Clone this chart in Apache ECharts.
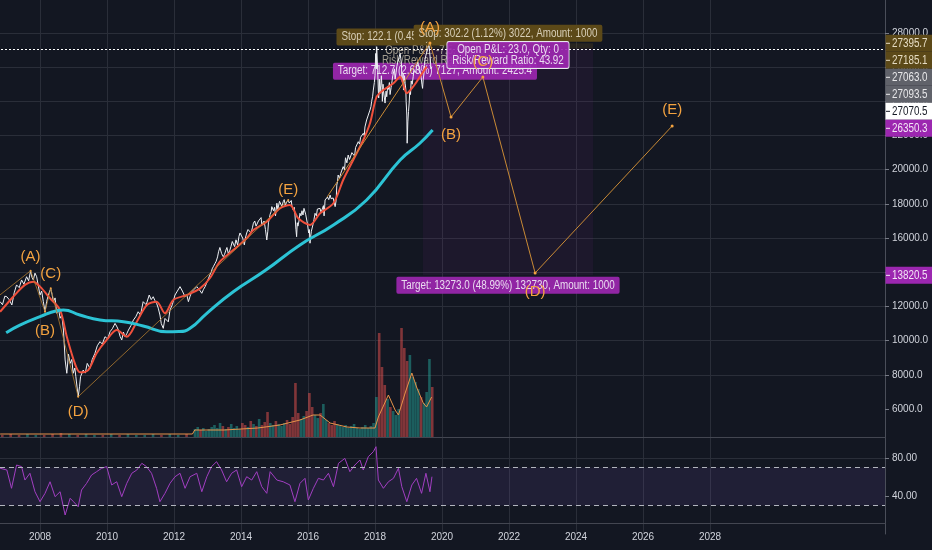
<!DOCTYPE html>
<html><head><meta charset="utf-8">
<script src="https://cdn.jsdelivr.net/npm/echarts@6.0.0/dist/echarts.min.js"></script>
<style>html,body{margin:0;padding:0;background:#131722;}#c{width:932px;height:550px;}</style>
</head><body><div id="c"></div>
<script>
// ---------------- DATA ----------------
// price (decimal year, close)
const price = [[2006.81,12280],[2006.88,12100],[2006.95,12600],[2007.01,12570],[2007.08,12400],[2007.16,12085],[2007.23,12800],[2007.30,13260],[2007.38,13100],[2007.45,13550],[2007.52,13300],[2007.60,13740],[2007.66,13500],[2007.72,14090],[2007.76,13700],[2007.80,13550],[2007.85,13950],[2007.90,13740],[2007.95,13200],[2008.00,12670],[2008.05,12900],[2008.10,12280],[2008.15,11690],[2008.20,12300],[2008.25,12670],[2008.32,13060],[2008.36,12700],[2008.40,12280],[2008.45,12500],[2008.50,11600],[2008.55,11900],[2008.60,11310],[2008.65,11500],[2008.70,10620],[2008.75,8870],[2008.80,8090],[2008.85,9200],[2008.90,8670],[2008.95,8900],[2008.99,8090],[2009.04,8400],[2009.07,7890],[2009.14,6720],[2009.18,7300],[2009.21,7890],[2009.29,8280],[2009.35,8100],[2009.41,8670],[2009.49,8380],[2009.56,8900],[2009.64,9260],[2009.71,9700],[2009.79,9940],[2009.86,9800],[2009.94,10230],[2010.02,10100],[2010.09,10520],[2010.16,10700],[2010.24,11010],[2010.30,10800],[2010.34,10620],[2010.39,10250],[2010.44,10040],[2010.49,10500],[2010.54,10230],[2010.59,10400],[2010.64,10620],[2010.72,10900],[2010.79,11210],[2010.86,11400],[2010.93,11690],[2011.00,11500],[2011.08,12280],[2011.17,12100],[2011.26,12670],[2011.32,12400],[2011.38,12570],[2011.43,12350],[2011.48,12190],[2011.53,11900],[2011.58,11500],[2011.62,11000],[2011.68,10720],[2011.73,11300],[2011.78,11400],[2011.83,11100],[2011.88,11790],[2011.95,12100],[2012.03,12670],[2012.10,12900],[2012.18,13160],[2012.25,12900],[2012.33,12570],[2012.38,12700],[2012.43,12280],[2012.48,12600],[2012.53,12860],[2012.60,13000],[2012.68,13160],[2012.75,13000],[2012.83,12770],[2012.88,13000],[2012.93,13160],
[2013.00,13500],[2013.07,13840],[2013.11,14000],[2013.14,14200],[2013.18,14350],[2013.22,14500],[2013.26,14650],[2013.30,14900],[2013.33,15200],[2013.37,15450],[2013.42,15100],[2013.47,14910],[2013.51,15050],[2013.55,15300],[2013.58,15450],[2013.62,15100],[2013.66,15250],[2013.70,15500],[2013.74,15800],[2013.77,15700],[2013.81,15500],[2013.85,15900],[2013.90,15600],[2013.94,16100],[2013.97,16300],[2014.02,16350],[2014.05,16000],[2014.10,15600],[2014.13,16000],[2014.17,16300],[2014.21,16500],[2014.25,16450],[2014.30,16300],[2014.34,16600],[2014.37,16870],[2014.41,17000],[2014.45,16700],[2014.49,16650],[2014.52,17000],[2014.57,17060],[2014.60,17200],[2014.62,16800],[2014.66,16750],[2014.69,17000],[2014.73,16500],[2014.77,15890],[2014.80,16400],[2014.82,16900],[2014.85,17200],[2014.87,17400],[2014.90,17550],[2014.92,17840],[2014.95,17950],[2014.97,17600],[2015.00,17800],[2015.03,17300],[2015.07,18040],[2015.10,17700],[2015.12,17800],[2015.15,18150],[2015.18,18100],[2015.22,17850],[2015.26,18130],[2015.29,18250],[2015.32,17900],[2015.36,18100],[2015.41,18230],[2015.44,18050],[2015.47,18000],[2015.50,18200],[2015.52,17900],[2015.56,17640],[2015.59,17800],[2015.61,17400],[2015.64,16500],[2015.66,16080],[2015.68,16900],[2015.70,16700],[2015.73,17000],[2015.76,17450],[2015.79,17300],[2015.82,17600],[2015.85,17350],[2015.88,17740],[2015.90,17800],[2015.93,17400],[2015.96,17500],[2015.98,16870],[2016.02,16300],[2016.04,16500],[2016.06,15700],[2016.08,16100],[2016.10,16400],[2016.13,16300],[2016.15,16800],[2016.18,17100],[2016.21,17450],[2016.25,17300],[2016.28,17700],[2016.32,17600],[2016.36,17740],[2016.39,17500],[2016.42,17400],[2016.46,17900],[2016.48,17300],[2016.51,18230],[2016.55,18300],[2016.58,18400],[2016.62,18250],[2016.66,18520],[2016.69,18300],[2016.72,18200],[2016.75,18350],[2016.78,18300],[2016.81,17840],[2016.84,18200],[2016.86,19100],[2016.88,19300],[2016.90,19690],[2016.94,19500],[2016.98,19800],[2017.02,19700],[2017.05,20180],[2017.09,20000],[2017.12,20700],[2017.16,20400],[2017.20,20860],[2017.24,20600],[2017.28,20700],[2017.31,21000],[2017.35,21050],[2017.39,20800],[2017.42,21300],[2017.46,21200],[2017.50,21640],[2017.54,21500],[2017.57,21900],[2017.61,21800],[2017.65,22130],[2017.68,22000],[2017.70,22500],[2017.73,22400],[2017.75,22910],[2017.78,22800],[2017.80,23200],[2017.83,23100],[2017.85,23490],[2017.88,23700],[2017.90,24000],[2017.93,24300],[2017.95,24660],
[2017.98,25100],[2018.00,25500],[2018.02,26800],[2018.04,25900],[2018.05,27200],[2018.07,26300],[2018.08,25800],[2018.10,24600],[2018.11,24200],[2018.13,25300],[2018.15,24470],[2018.17,24900],[2018.19,25500],[2018.21,24800],[2018.22,24000],[2018.24,25000],[2018.25,24660],[2018.28,24200],[2018.30,23900],[2018.33,24600],[2018.35,24270],[2018.38,24900],[2018.40,24700],[2018.43,25100],[2018.45,24400],[2018.48,24800],[2018.50,25060],[2018.53,25500],[2018.55,25400],[2018.58,25900],[2018.60,25300],[2018.63,25700],[2018.65,26030],[2018.68,26300],[2018.70,26400],[2018.73,26200],[2018.75,26810],[2018.77,26500],[2018.79,26200],[2018.80,25300],[2018.82,25100],[2018.84,25600],[2018.85,24660],[2018.87,25200],[2018.88,25500],[2018.90,25060],[2018.92,24700],[2018.93,24000],[2018.95,23200],[2018.96,21550],[2018.98,22800],[2019.00,23400],[2019.02,23900],[2019.04,24660],[2019.06,24400],[2019.08,25200],[2019.11,25000],[2019.14,25440],[2019.16,25800],[2019.19,25900],[2019.22,25700],[2019.24,26030],[2019.27,26300],[2019.30,26400],[2019.32,26200],[2019.34,25840],[2019.36,25900],[2019.38,25400],[2019.40,25000],[2019.42,24760],[2019.44,25300],[2019.46,25600],[2019.48,26100],[2019.49,26420],[2019.52,26700],[2019.54,26800],[2019.56,26600],[2019.58,27100],[2019.60,27000],[2019.61,27400],[2019.63,26900],[2019.65,26500],[2019.67,25900],[2019.70,26030]];
// short moving average (red)
const maShort = [[2006.81,11690],[2007.20,12570],[2007.55,13260],[2007.80,13450],[2008.00,13160],[2008.30,12480],[2008.60,11790],[2008.80,10230],[2009.04,8670],[2009.19,8150],[2009.44,8280],[2009.69,9260],[2009.99,10040],[2010.29,10620],[2010.59,10230],[2010.89,11110],[2011.19,12090],[2011.48,12280],[2011.73,11600],[2011.98,12380],[2012.38,12670],[2012.78,13060],[2013.07,13650],[2013.37,14620],[2013.77,15300],[2014.17,15990],[2014.37,16470],[2014.77,16960],[2015.16,17740],[2015.46,17940],[2015.71,17160],[2016.06,16770],[2016.36,17450],[2016.76,18040],[2017.05,19400],[2017.35,20570],[2017.65,21740],[2017.85,22720],[2018.05,24270],[2018.25,24660],[2018.55,25060],[2018.75,25440],[2018.95,24470],[2019.14,24860],[2019.34,25440],[2019.54,26030]];
// long moving average (cyan)
const maLong = [[2006.99,10465],[2007.40,10910],[2008.00,11400],[2008.50,11750],[2008.70,11790],[2009.19,11500],[2009.79,11210],[2010.49,11110],[2011.08,10860],[2011.78,10520],[2012.15,10530],[2012.48,10720],[2012.98,11600],[2013.77,12860],[2014.72,14100],[2015.76,15600],[2016.76,16770],[2017.75,18230],[2018.75,20570],[2019.34,21550],[2019.72,22320]];
// volume: quarterly before 2012.5, monthly after
const volPreStart = 2006.875;
const volPre = [2,3,2,3,2,2,3,4,3,2,3,2,2,3,2,3,2,2,3,2,3,2,3];
const volStart = 2012.625;
const volMonthly = [8,10,7,9,6, 8,10,12,9,14,11,8,10,13,9,11,8, 14,12,10,16,13,11,18,12,15,25,14,12, 16,13,11,14,17,13,20,54,24,18,21,26, 44,30,22,19,24,33,17,14,12,16,13,11, 10,12,9,11,13,9,8,10,12,9,11,14, 40,104,70,52,38,30,26,22,28,109,89,76, 82,60,55,48,40,34,45,78,50];
const volMA = [[2006.81,3],[2012.55,3],[2012.62,7],[2013.5,7],[2014.5,9],[2015.16,12],[2015.76,17],[2016.15,22],[2016.36,22],[2016.66,14],[2017.16,10],[2017.55,9],[2018.0,9],[2018.1,20],[2018.4,42],[2018.6,27],[2018.7,22],[2018.9,44],[2019.1,64],[2019.24,50],[2019.44,34],[2019.54,30],[2019.69,40]];
// RSI
const rsiT = [2006.81,2007.01,2007.15,2007.30,2007.45,2007.55,2007.70,2007.85,2008.00,2008.15,2008.30,2008.45,2008.60,2008.75,2008.90,2009.00,2009.14,2009.24,2009.39,2009.54,2009.69,2009.84,2009.99,2010.14,2010.29,2010.44,2010.59,2010.74,2010.89,2011.04,2011.18,2011.33,2011.48,2011.58,2011.73,2011.88,2012.03,2012.18,2012.33,2012.48,2012.68,2012.83,2012.98,2013.12,2013.27,2013.42,2013.57,2013.72,2013.87,2014.02,2014.17,2014.32,2014.47,2014.62,2014.77,2014.87,2015.07,2015.26,2015.46,2015.61,2015.76,2015.91,2016.01,2016.16,2016.31,2016.46,2016.61,2016.76,2016.91,2017.10,2017.25,2017.40,2017.55,2017.65,2017.80,2017.95,2018.03,2018.10,2018.25,2018.40,2018.55,2018.70,2018.80,2018.95,2019.10,2019.24,2019.39,2019.52,2019.64,2019.70];
const rsiV = [69.2,67.4,48.1,72.6,70.9,56.8,63.9,44.5,34,42.8,55,39.3,44.5,20,37.6,34,28.7,46.3,53.3,62.1,65.6,69.2,70.9,51.6,55,39.3,53.3,63.9,67.4,74.4,70.9,63.9,48.1,34,42.8,53.3,60.3,63.9,48.1,60.3,63.9,44.5,60.3,70.9,76.1,67.4,55,63.9,67.4,49.8,60.3,56.8,65.6,49.8,42.8,65.6,56.8,55,51.6,34,53.3,58.6,35.8,48.1,58.6,56.8,63.9,49.8,74.4,79.6,65.6,72.6,77.9,67.4,81.4,86.6,91.9,56.8,48.1,55,58.6,69.2,49.8,34,51.6,58.6,42.8,63.9,44.5,60.3];
const rsiLevels = [70, 30];
// Elliott waves
const waveHistPts = [[2006.5,12200],[2007.72,14090],[2008.15,11690],[2008.32,13060],[2009.14,6720],[2015.41,18230]];
const waveHistNames = ['','(A)','(B)','(C)','(D)','(E)'];
const waveProjPts = [[2016.57,18405],[2019.64,27415],[2020.27,23085],[2021.22,25426],[2022.78,13960],[2026.87,22559]];
const waveProjNames = ['','(A)','(B)','(C)','(D)','(E)'];
// positions (0 = small short, 1 = big short)
const posEntry = [27063.0, 27093.5];
const posStop = [27185.1, 27395.7];
const posTarget = [26350.3, 13820.5];
const posAmount = ['2425.4', '1000'];
const posStart = [2019.43, 2019.43];
const posEnd = [2020.15, 2024.51];
const lastPrice = 27070.5;
// axis ticks
const xTickMin = 2006, xTickStep = 2, xLabelFirst = 2008, xLabelLast = 2028;
const yTickMin = 4000, yTickMax = 30000, yTickStep = 2000, yLabelFirst = 6000, yLabelLast = 28000;
const rsiTickStep = 40, rsiLabels = [40, 80];

// ---------------- STYLE ----------------
const FONT = "'Liberation Sans',Arial,sans-serif";
const BG = '#131722', GRIDC = '#2a2e39', TXT = '#d1d4dc', PANE = '#434651';
const ORANGE = '#f4a340', BROWN = 'rgb(92,73,24)', GRAY = 'rgb(96,98,106)', PURPLE = 'rgb(156,39,176)';
const T = 'rgba(0,0,0,0)';
const NARROW = 0.82;                      // horizontal squeeze for overlay labels
const PXPY = 33.5;                        // px per year
const X_MAX = xTickMin + 912 / PXPY;

const xSplit = [];
for (let v = xTickMin, i = 0; i < 16; i++, v += xTickStep) xSplit.push(v >= xLabelFirst && v <= xLabelLast ? GRIDC : T);
const ySplit = [], yTicks = [];
for (let v = yTickMin; v <= yTickMax; v += yTickStep) {
  const on = v >= yLabelFirst && v <= yLabelLast;
  ySplit.push(on ? GRIDC : T);
  if (on) yTicks.push(v);
}

function priceAt(t) {
  for (let i = 1; i < price.length; i++) {
    if (price[i][0] >= t) { const a = price[i-1], b = price[i]; return a[1] + (b[1]-a[1])*(t-a[0])/(b[0]-a[0]); }
  }
  return price[price.length-1][1];
}
const volData = [];
volPre.forEach((v, i) => volData.push([volPreStart + i*0.25, v]));
volMonthly.forEach((v, i) => volData.push([volStart + i/12, v]));
const volItems = volData.map(d => {
  const up = priceAt(d[0]) >= priceAt(d[0] - 1/12);
  return {value: d, itemStyle: {color: up ? 'rgba(38,166,154,0.5)' : 'rgba(239,83,80,0.5)'}};
});

function waveData(pts, names, place) {
  return pts.map((p, i) => names[i] ? {value: p, name: names[i], label: {show: true, position: place[i][0], distance: place[i][1]}}
                                    : {value: p, name: '', symbol: 'none', label: {show: false}});
}
const histPlace = [null, ['top',5], ['bottom',11], ['top',6], ['bottom',7], ['top',2]];
const projPlace = [null, ['top',6], ['bottom',9], ['top',6], ['bottom',10], ['top',7]];

function xAx(gi, extra) {
  return Object.assign({type:'value', gridIndex: gi, min: xTickMin, max: X_MAX, interval: xTickStep,
    axisLine:{show:false}, axisTick:{show:false}, axisLabel:{show:false},
    splitLine:{show:true, lineStyle:{color: xSplit, width:1}}}, extra || {});
}

const option = {
  backgroundColor: BG,
  animation: false,
  textStyle: {fontFamily: FONT},
  grid: [
    {left:-27, width:912, top:-1.2, height:444.4, outerBoundsMode:'none', containLabel:false},
    {left:-27, width:912, top:327, height:110, outerBoundsMode:'none', containLabel:false},
    {left:-27, width:912, top:439, height:95, outerBoundsMode:'none', containLabel:false}
  ],
  xAxis: [
    xAx(0, {axisLine:{show:true, lineStyle:{color:PANE}}, offset:-6.2}),
    xAx(1, {splitLine:{show:false}}),
    xAx(2, {axisLine:{show:true, lineStyle:{color:PANE}}, offset:-11,
      axisLabel:{show:true, color:TXT, fontSize:10, fontFamily:FONT, margin:9,
        formatter: v => (Math.abs(v - Math.round(v)) < 1e-6 && v >= xLabelFirst && v <= xLabelLast) ? String(Math.round(v)) : ''}})
  ],
  yAxis: [
    {type:'value', gridIndex:0, position:'right', min:yTickMin, max:yTickMax, interval:yTickStep,
      axisLine:{show:true, lineStyle:{color:'#4a4e59'}},
      axisTick:{show:true, length:4, customValues:yTicks, lineStyle:{color:'#787b86'}},
      axisLabel:{color:TXT, fontSize:10, fontFamily:FONT, margin:7,
        formatter: v => (v >= yLabelFirst && v <= yLabelLast) ? v.toFixed(1) : ''},
      splitLine:{show:true, lineStyle:{color:ySplit}}},
    {type:'value', gridIndex:1, min:0, max:110, show:false},
    {type:'value', gridIndex:2, position:'right', min:0, max:100, interval:rsiTickStep,
      axisLine:{show:true, lineStyle:{color:'#4a4e59'}},
      axisTick:{show:true, length:4, customValues:rsiLabels, lineStyle:{color:'#787b86'}},
      axisLabel:{color:TXT, fontSize:10, fontFamily:FONT, margin:7,
        formatter: v => rsiLabels.indexOf(v) >= 0 ? v.toFixed(2) : ''},
      splitLine:{show:true, lineStyle:{color:[T, GRIDC, GRIDC, T]}}}
  ],
  series: [
    {type:'line', name:'zones', xAxisIndex:0, yAxisIndex:0, data:[[posStart[1], posEntry[1]]], symbol:'none', lineStyle:{width:0}, z:1, silent:true,
      markArea:{silent:true, data:[
        [{coord:[posStart[1], posEntry[1]], itemStyle:{color:'rgba(156,39,176,0.075)'}}, {coord:[posEnd[1], posTarget[1]]}],
        [{coord:[posStart[1], posStop[1]], itemStyle:{color:'rgba(140,105,30,0.18)'}}, {coord:[posEnd[1], posEntry[1]]}],
        [{coord:[posStart[0], posEntry[0]], itemStyle:{color:'rgba(156,39,176,0.10)'}}, {coord:[posEnd[0], posTarget[0]]}]
      ]}},
    {type:'line', name:'price', xAxisIndex:0, yAxisIndex:0, data:price, showSymbol:false, symbol:'none',
      lineStyle:{color:'#eef0f4', width:1}, z:3,
      markLine:{silent:true, symbol:'none', label:{show:false}, lineStyle:{color:'#ffffff', type:[2,2], width:1}, data:[{yAxis:lastPrice}]}},
    {type:'line', name:'ma short', xAxisIndex:0, yAxisIndex:0, data:maShort, showSymbol:false, symbol:'none', smooth:0.3,
      lineStyle:{color:'#f0503c', width:2}, z:4},
    {type:'line', name:'ma long', xAxisIndex:0, yAxisIndex:0, data:maLong, showSymbol:false, symbol:'none', smooth:true,
      lineStyle:{color:'#2cc3d5', width:3}, z:4},
    {type:'line', name:'wave hist', xAxisIndex:0, yAxisIndex:0, data:waveData(waveHistPts, waveHistNames, histPlace),
      symbol:'circle', symbolSize:2, showSymbol:true, itemStyle:{color:ORANGE},
      lineStyle:{color:'#b07c30', width:1, opacity:0.8}, z:10,
      label:{formatter:'{b}', color:ORANGE, fontSize:15, fontFamily:FONT}},
    {type:'line', name:'wave proj', xAxisIndex:0, yAxisIndex:0, data:waveData(waveProjPts, waveProjNames, projPlace),
      symbol:'circle', symbolSize:3, showSymbol:true, itemStyle:{color:ORANGE},
      lineStyle:{color:'#c98a35', width:1}, z:10,
      label:{formatter:'{b}', color:ORANGE, fontSize:15, fontFamily:FONT}},
    {type:'bar', name:'volume', xAxisIndex:1, yAxisIndex:1, data:volItems, barWidth:2.6, z:1, silent:true},
    {type:'line', name:'volume ma', xAxisIndex:1, yAxisIndex:1, data:volMA, showSymbol:false, symbol:'none',
      lineStyle:{color:'#e8944a', width:1}, z:2},
    {type:'line', name:'rsi', xAxisIndex:2, yAxisIndex:2, data:rsiT.map((t,i)=>[t, rsiV[i]]), showSymbol:false, symbol:'none',
      lineStyle:{color:'#a23fc2', width:1}, z:3,
      markArea:{silent:true, itemStyle:{color:'rgba(126,87,194,0.13)'}, data:[[{yAxis:rsiLevels[0]},{yAxis:rsiLevels[1]}]]},
      markLine:{silent:true, symbol:'none', label:{show:false}, lineStyle:{color:'#b2b5be', type:[5,4], width:1},
        data:rsiLevels.map(v=>({yAxis:v}))}}
  ]
};

const chart = echarts.init(document.getElementById('c'), null, {renderer:'canvas'});
chart.setOption(option);

// ---------------- overlays: position labels and price tags ----------------
(function overlay() {
  const P = (t, v) => chart.convertToPixel({gridIndex:0}, [t, v]);
  const els = [];
  const box = (text, x, y, o) => ({type:'text', x:x, y:y, scaleX:NARROW, z:o.z, silent:true,
    style: Object.assign({text:text, font:(o.size||12)+'px '+FONT, fill:o.fill||TXT, align:o.align||'center', verticalAlign:'middle', lineHeight:o.lh||14},
      o.bg ? {backgroundColor:o.bg, padding:o.pad||[2,6,1,6], borderRadius:2} : {},
      o.border ? {borderColor:o.border, borderWidth:1} : {})});
  const info = i => {
    const e = posEntry[i], s = posStop[i], tg = posTarget[i];
    const risk = s - e, reward = e - tg;
    return {
      stop: 'Stop: ' + risk.toFixed(1) + ' (' + (risk/e*100).toFixed(2) + '%) ' + Math.round(risk*10) + ', Amount: ' + posAmount[i],
      target: 'Target: ' + reward.toFixed(1) + ' (' + (reward/e*100).toFixed(2) + '%) ' + Math.round(reward*10) + ', Amount: ' + posAmount[i],
      pnl: 'Open P&L: ' + (e - lastPrice).toFixed(1) + ', Qty: 0\nRisk/Reward Ratio: ' + (reward/risk).toFixed(2)
    };
  };
  const cx = i => P((posStart[i] + posEnd[i]) / 2, posEntry[i])[0];
  const a = info(0), b = info(1);
  // small position (under the price line)
  els.push(box(a.target, cx(0), P(0, posTarget[0])[1] + 10, {z:1, bg:'rgba(156,39,176,0.92)', fill:'#eadcf0'}));
  els.push(box(a.pnl, cx(0), P(0, posEntry[0])[1] + 7, {z:1, fill:'#a39d90', lh:10}));
  els.push(box(a.stop, cx(0), P(0, posStop[0])[1] - 10, {z:6, bg:BROWN, fill:'#d8cfb8'}));
  // big position
  els.push(box(b.stop, cx(1), P(0, posStop[1])[1] - 10, {z:6, bg:BROWN, fill:'#d8cfb8'}));
  els.push(box(b.pnl, cx(1), P(0, posEntry[1])[1] + 6.5, {z:6, bg:'rgba(156,39,176,0.92)', fill:'#eadcf0', border:'#e8e8ee', lh:10.5, pad:[3,6,2,6]}));
  els.push(box(b.target, cx(1), P(0, posTarget[1])[1] + 10, {z:6, bg:'rgba(156,39,176,0.92)', fill:'#eadcf0'}));
  // price-scale tags
  const tagVals = [posStop[1], posStop[0], posEntry[0], posEntry[1], lastPrice, posTarget[0], posTarget[1]];
  const tagBg = [BROWN, BROWN, GRAY, GRAY, '#ffffff', PURPLE, PURPLE];
  const tagFg = ['#e6dcc3', '#e6dcc3', '#e8e8ea', '#e8e8ea', '#131722', '#f3e5f5', '#f3e5f5'];
  const ax = P(X_MAX, 0)[0];
  let prev = -1e9;
  tagVals.forEach((v, i) => {
    let y = Math.max(P(0, v)[1], prev + 17); prev = y;
    els.push({type:'rect', z:9, silent:true, shape:{x:ax+0.5, y:y-8.5, width:60, height:17}, style:{fill:tagBg[i]}});
    els.push({type:'line', z:9, silent:true, shape:{x1:ax+1, y1:y, x2:ax+5, y2:y}, style:{stroke:tagFg[i], lineWidth:1}});
    els.push({type:'text', z:9, silent:true, x:ax+7, y:y, scaleX:NARROW, style:{text:v.toFixed(1), font:'12px '+FONT, fill:tagFg[i], align:'left', verticalAlign:'middle'}});
  });
  chart.setOption({graphic:{elements:els}});
})();
</script>
</body></html>
